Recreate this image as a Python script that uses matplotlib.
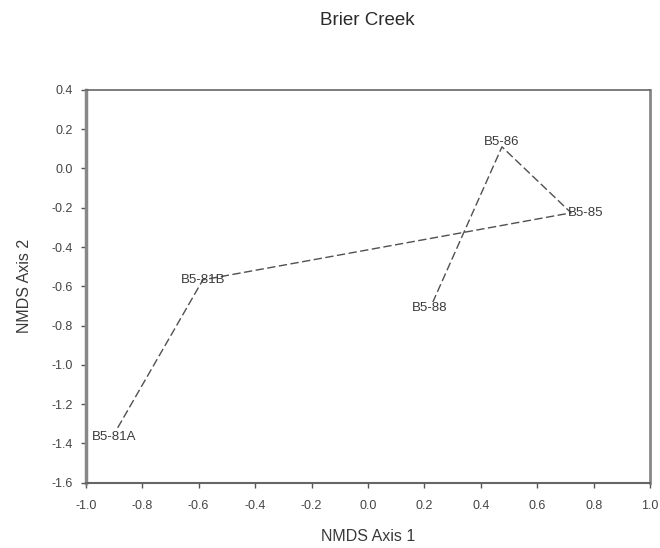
import matplotlib
matplotlib.use('Agg')
import matplotlib.pyplot as plt

plt.rcParams['font.family'] = ['Liberation Sans', 'DejaVu Sans']

# sample sites in NMDS space, in the order they are joined
sites = ['B5-81A', 'B5-81B', 'B5-85', 'B5-86', 'B5-88']
axis1 = [-0.887, -0.585, 0.72, 0.475, 0.23]
axis2 = [-1.32, -0.567, -0.226, 0.11, -0.68]
# where each label sits (slightly off the vertex in the source)
label_x = [-0.90, -0.585, 0.773, 0.475, 0.22]
label_y = [-1.366, -0.567, -0.226, 0.135, -0.71]

xticks = [-1.0, -0.8, -0.6, -0.4, -0.2, 0.0, 0.2, 0.4, 0.6, 0.8, 1.0]
yticks = [0.4, 0.2, 0.0, -0.2, -0.4, -0.6, -0.8, -1.0, -1.2, -1.4, -1.6]

fig = plt.figure(figsize=(6.6, 5.48), dpi=100)
ax = fig.add_axes([0.130, 0.119, 0.855, 0.717])

ax.plot(axis1, axis2, color='#505050', lw=1.0, dashes=(6, 2.5))
for name, lx, ly in zip(sites, label_x, label_y):
    ax.text(lx, ly, name, ha='center', va='center', fontsize=9.5, color='#3a3a3a')

ax.set_xlim(-1.0, 1.0)
ax.set_ylim(-1.6, 0.4)
ax.set_xticks(xticks)
ax.set_yticks(yticks)
ax.set_xticklabels([f'{t:.1f}' for t in xticks])
ax.set_yticklabels([f'{t:.1f}' for t in yticks])
ax.tick_params(direction='out', length=3.5, width=1, color='#555555', labelsize=9, labelcolor='#444444')
ax.tick_params(axis='x', pad=9)
ax.tick_params(axis='y', pad=6)

ax.spines['top'].set_color('#666666')
ax.spines['top'].set_linewidth(1.2)
ax.spines['right'].set_color('#888888')
ax.spines['right'].set_linewidth(2.0)
ax.spines['left'].set_color('#888888')
ax.spines['left'].set_linewidth(2.5)
ax.spines['bottom'].set_color('#666666')
ax.spines['bottom'].set_linewidth(1.5)

ax.set_xlabel('NMDS Axis 1', fontsize=11.5, color='#3a3a3a')
ax.set_ylabel('NMDS Axis 2', fontsize=11.5, color='#3a3a3a')
ax.xaxis.set_label_coords(0.5, -0.118)
ax.yaxis.set_label_coords(-0.095, 0.5)
fig.text(0.556, 0.963, 'Brier Creek', ha='center', va='center', fontsize=13.5, color='#2a2a2a')

fig.savefig('out.png', dpi=100)
